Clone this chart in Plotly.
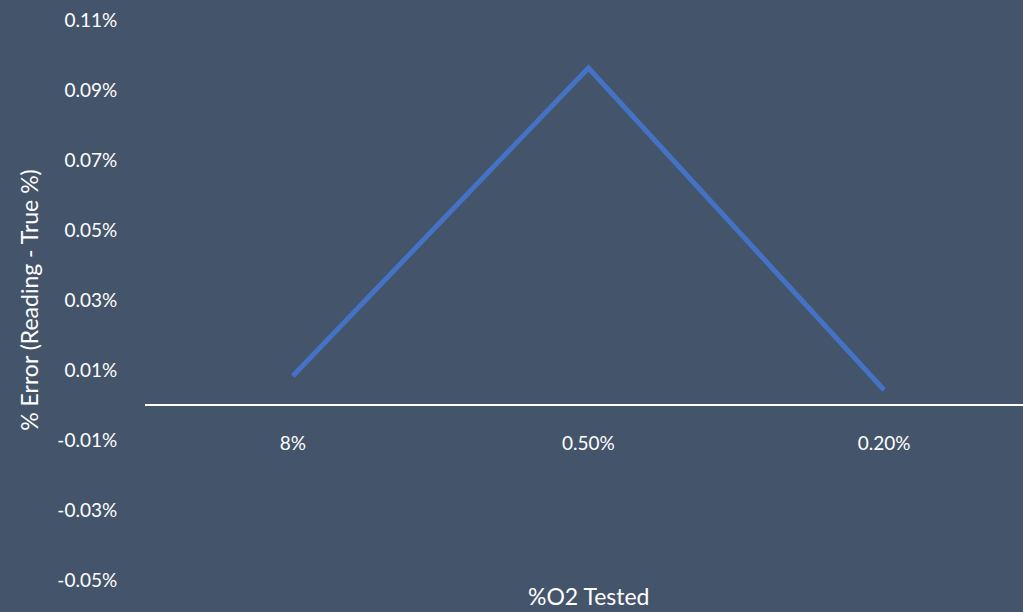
import plotly.graph_objects as go

categories = ["8%", "0.50%", "0.20%"]
error_pct = [0.0083, 0.0963, 0.0043]
y_tick_vals = [-0.05, -0.03, -0.01, 0.01, 0.03, 0.05, 0.07, 0.09, 0.11]
y_tick_text = ["-0.05%", "-0.03%", "-0.01%", "0.01%", "0.03%", "0.05%", "0.07%", "0.09%", "0.11%"]

BG = "#44546A"
FONT = "Lato, 'Open Sans', sans-serif"

fig = go.Figure()
fig.add_trace(go.Scatter(
    x=[0, 1, 2], y=error_pct, mode="lines",
    line=dict(color="#4472C4", width=5),
    hoverinfo="skip", showlegend=False,
))

y_min, y_max = -0.05, 0.11
zero_pos = (0 - y_min) / (y_max - y_min)

fig.update_layout(
    width=1023, height=612,
    paper_bgcolor=BG, plot_bgcolor=BG,
    margin=dict(l=145, r=0, t=20, b=32),
    font=dict(family=FONT, color="white", size=19),
    xaxis=dict(
        range=[-0.5, 2.47],
        tickvals=[0, 1, 2], ticktext=categories,
        showgrid=False, zeroline=False,
        showline=True, linecolor="white", linewidth=2,
        anchor="free", position=zero_pos,
        ticks="outside", ticklen=21, tickcolor="rgba(0,0,0,0)",
        tickfont=dict(size=19, color="white"),
    ),
    yaxis=dict(
        range=[y_min, y_max],
        tickvals=y_tick_vals, ticktext=y_tick_text,
        showgrid=False, zeroline=False, showline=False,
        ticks="outside", ticklen=23, tickcolor="rgba(0,0,0,0)",
        tickfont=dict(size=19, color="white"),
        title=dict(text="% Error (Reading - True %)", font=dict(size=23, color="white"), standoff=12),
    ),
    annotations=[dict(
        text="%O2 Tested", xref="paper", yref="paper",
        x=(588 - 145) / (1023 - 145), y=0, yshift=-32,
        xanchor="center", yanchor="bottom", showarrow=False,
        font=dict(size=23, color="white"),
    )],
)

fig.write_html(
    "out.html",
    config={"displayModeBar": False},
    post_script="document.body.style.margin='0';document.body.style.padding='0';document.body.style.background='#44546A';",
)
